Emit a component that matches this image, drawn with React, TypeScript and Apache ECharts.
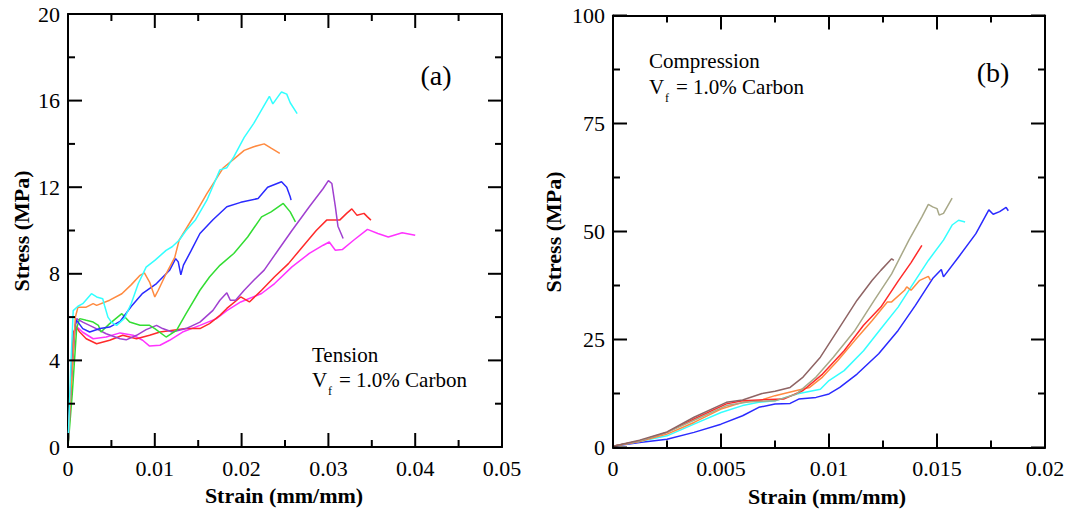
import React, { useEffect, useRef } from "react";
import * as echarts from "echarts";

// ---------- Tension (a): [strain, stress MPa] ----------
const tCyan = [[0,0],[0.0003,3.5],[0.0006,6.3],[0.00115,6.5],[0.0017,6.62],[0.0027,7.08],[0.0033,6.93],[0.004,6.85],[0.0042,6.55],[0.0046,6.0],[0.005,5.77],[0.0056,5.62],[0.0065,5.94],[0.0073,6.64],[0.0081,7.55],[0.009,8.31],[0.01,8.62],[0.0113,9.08],[0.012,9.25],[0.0128,9.55],[0.0136,10.0],[0.0147,10.5],[0.016,11.4],[0.0175,12.8],[0.0183,12.9],[0.0191,13.4],[0.0203,14.3],[0.0214,14.95],[0.0232,16.2],[0.0236,15.85],[0.0244,16.3],[0.0246,16.4],[0.0252,16.3],[0.0256,15.9],[0.0264,15.4]];
const tOrange = [[0,0],[0.0004,3.0],[0.00085,6.0],[0.00115,6.46],[0.0021,6.46],[0.0029,6.62],[0.0033,6.54],[0.0048,6.78],[0.0062,7.08],[0.0073,7.5],[0.0083,7.93],[0.0088,8.04],[0.0094,7.62],[0.01,6.93],[0.0104,7.24],[0.0113,8.0],[0.0123,8.76],[0.0128,9.55],[0.0144,10.6],[0.016,11.7],[0.0179,12.9],[0.0191,13.3],[0.0203,13.7],[0.0214,13.87],[0.0226,14.0],[0.0234,13.8],[0.0244,13.56]];
const tBlue = [[0,0],[0.0004,3.2],[0.0008,5.6],[0.001,5.85],[0.0017,5.47],[0.0025,5.31],[0.0037,5.47],[0.0048,5.54],[0.006,5.8],[0.0073,6.5],[0.0086,7.1],[0.0102,7.55],[0.0117,8.16],[0.0124,8.7],[0.0127,8.55],[0.013,7.95],[0.0133,8.4],[0.0142,9.08],[0.0152,9.86],[0.0167,10.5],[0.0183,11.1],[0.0199,11.3],[0.0219,11.48],[0.023,12.0],[0.0246,12.25],[0.0252,12.0],[0.0256,11.56],[0.0257,11.4]];
const tGreen = [[0,0],[0.0005,2.5],[0.001,5.5],[0.00135,5.93],[0.0021,5.85],[0.0029,5.77],[0.0035,5.62],[0.0038,5.31],[0.0048,5.7],[0.0062,6.16],[0.0071,5.77],[0.0083,5.62],[0.0094,5.62],[0.01,5.47],[0.0113,5.08],[0.0125,5.39],[0.0136,6.16],[0.0152,7.24],[0.0163,7.85],[0.0175,8.39],[0.0191,8.94],[0.0207,9.7],[0.0223,10.63],[0.0234,10.86],[0.0248,11.25],[0.0256,10.86],[0.0262,10.4]];
const tPurple = [[0,0],[0.0004,3.0],[0.0008,5.5],[0.001,5.93],[0.0017,5.77],[0.0029,5.54],[0.0044,5.23],[0.006,5.0],[0.0067,4.95],[0.0079,5.16],[0.009,5.42],[0.0102,5.62],[0.0109,5.47],[0.012,5.31],[0.0136,5.47],[0.0152,5.77],[0.0167,6.31],[0.0175,6.78],[0.0183,7.12],[0.0187,6.78],[0.0193,6.78],[0.0203,7.24],[0.0214,7.7],[0.0226,8.17],[0.0242,9.09],[0.0258,10.0],[0.0278,11.1],[0.0294,11.94],[0.03,12.3],[0.0304,12.17],[0.0308,11.1],[0.0311,10.2],[0.0317,9.63]];
const tRed = [[0,0],[0.0003,2.5],[0.0006,5.3],[0.001,5.5],[0.00135,5.31],[0.0021,5.0],[0.0033,4.77],[0.0048,4.93],[0.0063,5.16],[0.0079,5.0],[0.0094,5.16],[0.0106,5.31],[0.0121,5.39],[0.0136,5.47],[0.0152,5.47],[0.0163,5.7],[0.0175,6.08],[0.0183,6.4],[0.0199,6.93],[0.0209,6.7],[0.0223,7.24],[0.0238,7.86],[0.0254,8.47],[0.027,9.24],[0.0286,10.0],[0.0298,10.48],[0.0313,10.48],[0.0321,10.79],[0.0327,11.0],[0.0333,10.7],[0.0341,10.79],[0.0345,10.63],[0.0349,10.48]];
const tMagenta = [[0,0],[0.0003,2.8],[0.0006,5.2],[0.0009,5.6],[0.0017,5.3],[0.0029,5.0],[0.0044,5.08],[0.006,5.27],[0.0075,5.16],[0.0086,4.93],[0.0094,4.66],[0.0106,4.7],[0.0117,4.93],[0.0132,5.31],[0.0152,5.62],[0.0171,5.93],[0.0183,6.3],[0.0199,6.7],[0.0223,7.09],[0.0238,7.55],[0.0258,8.32],[0.0278,8.94],[0.0294,9.32],[0.0301,9.47],[0.0308,9.09],[0.0316,9.12],[0.0329,9.55],[0.0345,10.05],[0.0357,9.86],[0.0369,9.7],[0.0385,9.9],[0.04,9.78]];

// ---------- Compression (b): [strain, stress MPa] ----------
const cBlue = [[0,0.3],[0.00123,1.16],[0.0025,1.9],[0.00375,3.5],[0.005,5.4],[0.006,7.35],[0.00675,9.3],[0.0075,10.06],[0.0082,10.2],[0.0086,11.2],[0.0094,11.6],[0.01,12.4],[0.0105,13.9],[0.0113,17.0],[0.0123,21.7],[0.0132,27.1],[0.014,32.9],[0.0148,39.1],[0.0152,41.2],[0.0153,39.5],[0.016,44.1],[0.0168,49.5],[0.0174,55.0],[0.0176,54.0],[0.0179,54.6],[0.0182,55.6],[0.0183,54.8]];
const cCyan = [[0,0.3],[0.00123,1.4],[0.0025,2.7],[0.00375,5.4],[0.005,8.1],[0.006,9.7],[0.00675,10.45],[0.0075,10.8],[0.0085,12.4],[0.0096,13.5],[0.01,15.5],[0.0107,17.8],[0.0116,22.4],[0.0124,27.5],[0.0132,32.5],[0.0138,37.2],[0.0146,43.3],[0.0153,48.0],[0.0157,51.5],[0.016,52.6],[0.0163,52.2]];
const cOrange = [[0,0.3],[0.00123,1.4],[0.0025,3.1],[0.00375,5.8],[0.005,8.9],[0.006,10.45],[0.00675,10.8],[0.0075,12.0],[0.0085,13.2],[0.0091,13.9],[0.0097,16.3],[0.0104,20.1],[0.0112,24.8],[0.012,29.4],[0.0127,33.7],[0.0129,33.7],[0.0135,36.4],[0.0136,37.2],[0.0138,36.4],[0.0142,38.7],[0.0146,39.6],[0.0147,38.7]];
const cRed = [[0,0.3],[0.00123,1.5],[0.0025,3.5],[0.00375,6.6],[0.00525,10.1],[0.006,10.8],[0.00675,11.0],[0.0079,11.2],[0.0088,13.2],[0.0097,17.0],[0.0107,22.4],[0.0116,28.3],[0.0124,32.5],[0.0132,38.5],[0.0138,42.8],[0.0143,46.8]];
const cBrown = [[0,0.3],[0.00123,1.7],[0.0025,3.6],[0.00375,7.0],[0.00525,10.45],[0.006,11.0],[0.0069,12.5],[0.0075,13.0],[0.0082,13.9],[0.0088,16.3],[0.0096,20.9],[0.0104,27.1],[0.0113,34.1],[0.012,38.7],[0.0124,41.0],[0.0129,43.7],[0.013,43.3]];
const cOlive = [[0,0.3],[0.00123,1.5],[0.0025,3.5],[0.00375,6.3],[0.00525,9.7],[0.0063,10.6],[0.0075,10.8],[0.0085,12.4],[0.0094,16.3],[0.0102,20.9],[0.0112,27.1],[0.0121,34.1],[0.0129,40.2],[0.0137,48.0],[0.0143,53.4],[0.0146,56.3],[0.0148,55.7],[0.015,55.3],[0.0151,53.8],[0.0153,54.2],[0.0157,57.7]];

// axis scales (major step; minor ticks every half step)
const xMaxA = 0.05, xStepA = 0.01, yMaxA = 20, yStepA = 4;
const xMaxB = 0.02, xStepB = 0.005, yMaxB = 100, yStepB = 25;

const FONT = "Liberation Serif, serif";
const MAJOR = 14, MINOR = 7;
const BLACK = { color: "#000", width: 2 };

function mainAxis(gridIndex: number, position: string, max: number, interval: number, margin: number, label: boolean) {
  return {
    type: "value", gridIndex, position, min: 0, max, interval,
    axisLine: { show: true, onZero: false, lineStyle: BLACK },
    axisTick: { show: false },
    axisLabel: { show: label, margin, color: "#000", fontFamily: FONT, fontSize: 22 },
    splitLine: { show: false },
  };
}

// tick values [value, isMajor] built from the axis step
function tickList(max: number, step: number) {
  const out: number[][] = [];
  const n = Math.round((max / step) * 2);
  for (let i = 0; i <= n; i++) out.push([+(i * step / 2).toPrecision(6), i % 2 === 0 ? 1 : 0]);
  return out;
}

// inward ticks on all four sides of a grid, placed through the chart's own scales
function tickLines(chart: any, gridIndex: number, xMax: number, xStep: number, yMax: number, yStep: number) {
  const els: any[] = [];
  const style = { stroke: "#000", lineWidth: 2 };
  const px = (p: number[]) => chart.convertToPixel({ gridIndex }, p);
  for (const [v, major] of tickList(xMax, xStep)) {
    const len = major ? MAJOR : MINOR;
    const b = px([v, 0]), t = px([v, yMax]);
    els.push({ type: "line", silent: true, z: 50, shape: { x1: b[0], y1: b[1], x2: b[0], y2: b[1] - len }, style });
    els.push({ type: "line", silent: true, z: 50, shape: { x1: t[0], y1: t[1], x2: t[0], y2: t[1] + len }, style });
  }
  for (const [v, major] of tickList(yMax, yStep)) {
    const len = major ? MAJOR : MINOR;
    const l = px([0, v]), r = px([xMax, v]);
    els.push({ type: "line", silent: true, z: 50, shape: { x1: l[0], y1: l[1], x2: l[0] + len, y2: l[1] }, style });
    els.push({ type: "line", silent: true, z: 50, shape: { x1: r[0], y1: r[1], x2: r[0] - len, y2: r[1] }, style });
  }
  return els;
}

function line(data: number[][], color: string, axisIndex: number) {
  return {
    type: "line", data, xAxisIndex: axisIndex, yAxisIndex: axisIndex, symbol: "none", showSymbol: false,
    lineStyle: { color, width: 1.5 }, itemStyle: { color }, silent: true,
  };
}
function txt(x: number, y: number, text: string, size: number, extra: any = {}) {
  return {
    type: "text", x, y, silent: true, rotation: extra.rotation || 0,
    style: { text, fill: "#000", fontFamily: FONT, fontSize: size, fontWeight: extra.bold ? "bold" : "normal", align: extra.align || "left", verticalAlign: "middle" },
  };
}

export default function App() {
  const ref = useRef<HTMLDivElement>(null);
  useEffect(() => {
    const chart = echarts.init(ref.current!, null, { renderer: "svg" });
    chart.setOption({
      animation: false,
      grid: [
        { left: 68, top: 14, width: 434, height: 433, containLabel: false },
        { left: 613, top: 15.5, width: 432, height: 432, containLabel: false },
      ],
      xAxis: [
        mainAxis(0, "bottom", xMaxA, xStepA, 10, true),
        mainAxis(1, "bottom", xMaxB, xStepB, 10, true),
        mainAxis(0, "top", xMaxA, xStepA, 10, false),
        mainAxis(1, "top", xMaxB, xStepB, 10, false),
      ],
      yAxis: [
        mainAxis(0, "left", yMaxA, yStepA, 8, true),
        mainAxis(1, "left", yMaxB, yStepB, 8, true),
        mainAxis(0, "right", yMaxA, yStepA, 8, false),
        mainAxis(1, "right", yMaxB, yStepB, 8, false),
      ],
      series: [
        line(tMagenta, "#ff33ff", 0),
        line(tRed, "#ff2a2a", 0),
        line(tPurple, "#a040d0", 0),
        line(tGreen, "#33dd33", 0),
        line(tBlue, "#2a2aff", 0),
        line(tOrange, "#ff8a40", 0),
        line(tCyan, "#33ffff", 0),
        line(cBlue, "#2a2aff", 1),
        line(cCyan, "#33ffff", 1),
        line(cOrange, "#ff8a40", 1),
        line(cRed, "#ff2a2a", 1),
        line(cOlive, "#a8a888", 1),
        line(cBrown, "#8f6464", 1),
      ],
    });
    const texts = [
      txt(284, 495, "Strain (mm/mm)", 22, { bold: true, align: "center" }),
      txt(827, 496, "Strain (mm/mm)", 22, { bold: true, align: "center" }),
      txt(21, 231, "Stress (MPa)", 22, { bold: true, align: "center", rotation: Math.PI / 2 }),
      txt(553, 232, "Stress (MPa)", 22, { bold: true, align: "center", rotation: Math.PI / 2 }),
      txt(436, 75, "(a)", 28, { align: "center" }),
      txt(993, 72, "(b)", 28, { align: "center" }),
      txt(312, 355, "Tension", 21),
      txt(312, 380, "V", 21),
      txt(328, 391, "f", 12),
      txt(339, 380, "= 1.0% Carbon", 21),
      txt(649, 61, "Compression", 21),
      txt(649, 87, "V", 21),
      txt(665, 98, "f", 12),
      txt(676, 87, "= 1.0% Carbon", 21),
    ];
    let ticks: any[] = [];
    try {
      ticks = [
        ...tickLines(chart, 0, xMaxA, xStepA, yMaxA, yStepA),
        ...tickLines(chart, 1, xMaxB, xStepB, yMaxB, yStepB),
      ];
    } catch (e) {
      ticks = [];
    }
    chart.setOption({ graphic: [...texts, ...ticks] });
    return () => chart.dispose();
  }, []);
  return <div ref={ref} style={{ position: "fixed", left: 0, top: 0, width: 1072, height: 512, background: "#fff" }} />;
}
